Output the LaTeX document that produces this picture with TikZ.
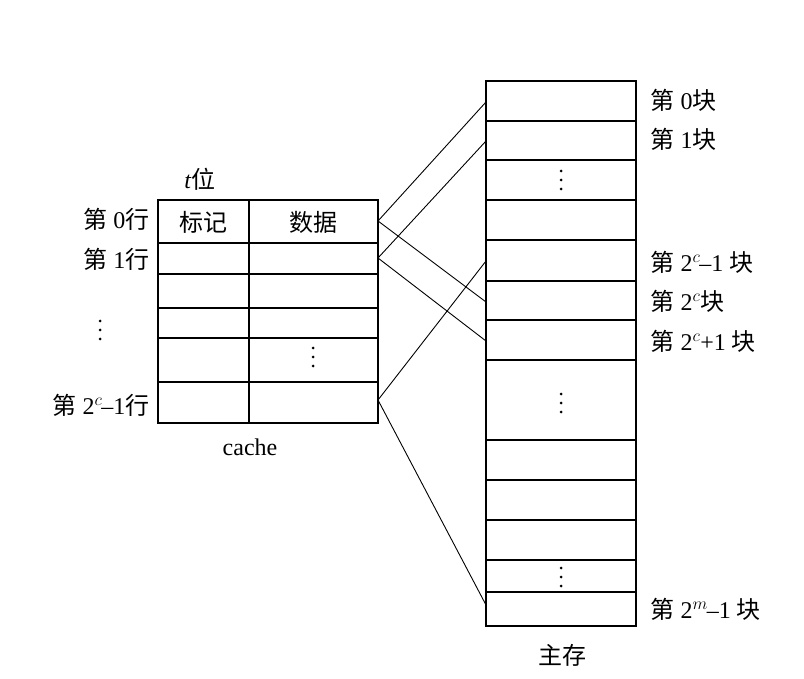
\documentclass[tikz,border=0pt]{standalone}
\usepackage{fontspec}
\setmainfont{Liberation Serif}
\newfontfamily\cjk{Noto Sans CJK SC}
\begin{document}
\begin{tikzpicture}[x=1pt,y=-1pt,line width=1.1pt,
  lab/.style={font=\fontsize{24}{27}\selectfont,inner sep=0pt},
  dot/.style={fill,circle,inner sep=0pt,minimum size=3pt}]
\useasboundingbox (0,0) rectangle (804,679);
\newcommand{\vdt}[2]{\foreach \k in {-9,0,9} \node[dot] at (#1,#2+\k) {};}
% cache
\draw (158,200) rectangle (378,423);
\draw (249,200) -- (249,423);
\foreach \y in {243,274,308,338,382} \draw (158,\y) -- (378,\y);
\node[lab] (tag) at (203.5,222) {\cjk 标记};
\node[lab] (dat) at (313.5,222) {\cjk 数据};
\node[lab] (tb) at (200,179) {\textit{t}\cjk 位};
\node[lab] (cc) at (250,447) {cache};
\node[lab,anchor=east] (r0) at (150,219) {{\cjk 第} 0{\cjk 行}};
\node[lab,anchor=east] (r1) at (150,259) {{\cjk 第} 1{\cjk 行}};
\vdt{100}{330}
\vdt{313}{357}
\node[lab,anchor=east] (rl) at (150,405) {{\cjk 第} 2$^c$\hspace{-1pt}--1{\cjk 行}};
% memory
\draw (486,81) rectangle (636,626);
\foreach \y in {121,160,200,240,320,360,440,480,520,560,592} \draw (486,\y) -- (636,\y);
\draw[line width=2.2pt] (486,281) -- (636,281);
\vdt{561}{180}
\vdt{561}{403}
\vdt{561}{577}
\node[lab] (mm) at (562,655) {\cjk 主存};
\node[lab,anchor=west] (b0) at (650,100) {{\cjk 第} 0{\cjk 块}};
\node[lab,anchor=west] (b1) at (650,139) {{\cjk 第} 1{\cjk 块}};
\node[lab,anchor=west] (b2) at (650,262) {{\cjk 第} 2$^c$\hspace{-1pt}--1 {\cjk 块}};
\node[lab,anchor=west] (b3) at (650,301) {{\cjk 第} 2$^c${\cjk 块}};
\node[lab,anchor=west] (b4) at (650,341) {{\cjk 第} 2$^c$+1 {\cjk 块}};
\node[lab,anchor=west] (b5) at (650,609) {{\cjk 第} 2$^m$\hspace{-1pt}--1 {\cjk 块}};
% connectors
\coordinate (c0) at (378,221);
\coordinate (c1) at (378,258);
\coordinate (cl) at (378,400);
\coordinate (t0) at (486,102);
\coordinate (t1) at (486,141);
\coordinate (t2) at (486,261);
\coordinate (t3) at (486,302);
\coordinate (t4) at (486,341);
\coordinate (t5) at (486,605);
\draw[line width=0.9pt] (c0) -- (t0) (c0) -- (t3) (c1) -- (t1) (c1) -- (t4) (cl) -- (t2) (cl) -- (t5);
\end{tikzpicture}
\end{document}
